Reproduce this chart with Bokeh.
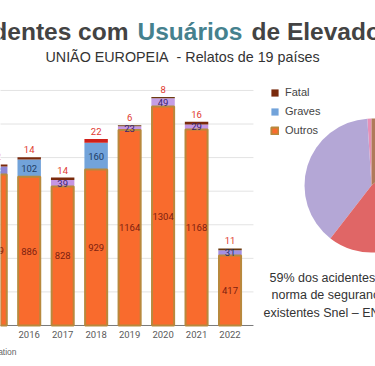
import numpy as np
from bokeh.plotting import figure
from bokeh.models import (ColumnDataSource, Range1d, FixedTicker, LabelSet, Label,
                          Legend, LegendItem, Title)
from bokeh.core.properties import value
from bokeh.embed import file_html
from bokeh.resources import INLINE

# ---------------- data ----------------
years = [2015, 2016, 2017, 2018, 2019, 2020, 2021, 2022]
fatal = [12, 14, 14, 22, 6, 8, 16, 11]
graves = [48, 102, 39, 160, 23, 49, 29, 31]
outros = [899, 886, 828, 929, 1164, 1304, 1168, 417]
y_ticks = [0, 200, 400, 600, 800, 1000, 1200, 1400]
series_names = ["Fatal", "Graves", "Outros"]

pie_labels = ["a", "b", "c", "d"]
pie_shares = [1.0, 38.5, 47.0, 13.5]

title_parts = ["Acidentes com", "Usuários", "de Elevadores"]
subtitle = "UNIÃO EUROPEIA\u00a0 - Relatos de 19 países"
note_lines = ["59% dos acidentes ocorreram sem a", "norma de segurança para elevadores",
              "existentes Snel – EN 81-80"]
source_text = "Fonte: ELA – European Lift Association"

# ---------------- styles ----------------
ORANGE = "#f96b2d"
BROWN = "#b8893d"
fatal_colors = ["#7a2a0c", "#7a2a0c", "#7a2a0c", "#d0201a", "#6b3a10", "#6b3a10", "#7a2a0c", "#6b3a10"]
graves_colors = ["#8d86d6", "#72a3da", "#c596e3", "#72a3da", "#c596e3", "#c49ee6", "#c596e3", "#a390e3"]
graves_text = ["#2a2a6e", "#1e3d66", "#3b2470", "#1e3d66", "#3b2470", "#3b2470", "#3b2470", "#23306b"]
pie_colors = ["#e88fb5", "#b4a7d6", "#e06666", "#b07a5a"]

FONT = "Roboto"
AFONT = "Liberation Sans"

o = np.array(outros, dtype=float)
g = np.array(graves, dtype=float)
f = np.array(fatal, dtype=float)

src = ColumnDataSource(dict(
    year=years,
    outros=o, g_top=o + g, f_top=o + g + f,
    o_mid=o / 2, g_mid=o + g / 2,
    o_txt=[str(v) for v in outros], g_txt=[str(v) for v in graves], f_txt=[str(v) for v in fatal],
    fcol=fatal_colors, gcol=graves_colors, gtc=graves_text,
))

W, H = 375, 366
p = figure(width=W, height=H, output_backend="svg", toolbar_location=None,
           x_range=Range1d(2015.1425, 2026.3466), y_range=Range1d(-17.9, 1935.7),
           y_axis_location=None, min_border_left=0, min_border_right=0,
           min_border_top=0, min_border_bottom=38, title=None)
p.outline_line_color = None
p.grid.grid_line_color = None

# grid lines (only across bar area)
grid_end = 2022.70
p.segment(x0=2014.5, x1=grid_end, y0=y_ticks[1:], y1=y_ticks[1:], line_color="#e3e3e3", line_width=1)
p.segment(x0=[2014.5], x1=[grid_end], y0=[y_ticks[0]], y1=[y_ticks[0]], line_color="#7a7a7a", line_width=1)

# x axis
ax = p.xaxis[0]
ax.ticker = FixedTicker(ticks=years)
ax.axis_line_color = None
ax.major_tick_line_color = None
ax.minor_tick_line_color = None
ax.major_tick_out = 0
ax.major_tick_in = 0
ax.minor_tick_out = 0
ax.major_label_standoff = 2
ax.major_label_text_font = FONT
ax.major_label_text_font_size = "9.5px"
ax.major_label_text_color = "#5a5a5a"

# source note below the axis
p.add_layout(Title(text=source_text, align="right", offset=358, text_font=AFONT,
                   text_font_size="8.5px", text_font_style="normal", text_color="#666666",
                   standoff=8), "below")

# bars
r_gr = p.vbar(x="year", bottom="outros", top="g_top", width=0.70, fill_color="gcol",
              line_color=None, source=src)
r_fa = p.vbar(x="year", bottom="g_top", top="f_top", width=0.70, fill_color="fcol",
              line_color=None, source=src)
r_out = p.vbar(x="year", bottom=0, top="outros", width=0.66, fill_color=ORANGE,
               line_color=BROWN, line_width=2, source=src)

# value labels
p.add_layout(LabelSet(x="year", y="o_mid", text="o_txt", source=src, text_align="center",
                      text_baseline="middle", text_font=value(FONT), text_font_size="9.5px",
                      text_color="#7d1f10"))
p.add_layout(LabelSet(x="year", y="g_mid", text="g_txt", source=src, text_align="center",
                      text_baseline="middle", text_font=value(FONT), text_font_size="9.5px",
                      text_color="gtc"))
p.add_layout(LabelSet(x="year", y="f_top", text="f_txt", source=src, text_align="center",
                      text_baseline="bottom", y_offset=4, text_font=value(FONT),
                      text_font_size="9.5px", text_color="#e0392f"))

# legend
legend = Legend(items=[LegendItem(label=series_names[0], renderers=[r_fa], index=1),
                       LegendItem(label=series_names[1], renderers=[r_gr], index=1),
                       LegendItem(label=series_names[2], renderers=[r_out], index=1)],
                location=(270, 190), orientation="vertical", glyph_width=9, glyph_height=9,
                label_height=16, spacing=3, padding=0, margin=0, border_line_color=None,
                background_fill_alpha=0, label_text_font=AFONT, label_text_font_size="11px",
                label_standoff=6, label_text_color="#444444")
p.add_layout(legend)

# pie
shares = np.array(pie_shares) / sum(pie_shares)
ends = np.pi / 2 + 2 * np.pi * np.cumsum(shares)
starts = ends - 2 * np.pi * shares
pie_src = ColumnDataSource(dict(label=pie_labels, start=starts, end=ends, color=pie_colors,
                                x=[2026.227] * 4, y=[833.8] * 4))
p.wedge(x="x", y="y", radius=67, radius_units="screen", start_angle="start", end_angle="end",
        direction="anticlock", fill_color="color", line_color=None, source=pie_src)

# titles
def lab(x, y, text, **kw):
    p.add_layout(Label(x=x, y=y, x_units="screen", y_units="screen", text=text, **kw))

lab(128, 284, title_parts[0], text_align="right", text_font=AFONT, text_font_size="24.5px",
    text_font_style="bold", text_color="#434343")
lab(137, 284, title_parts[1], text_align="left", text_font=AFONT, text_font_size="24.5px",
    text_font_style="bold", text_color="#45818e")
lab(251, 284, title_parts[2], text_align="left", text_font=AFONT, text_font_size="24.5px",
    text_font_style="bold", text_color="#434343")
lab(45, 264, subtitle, text_align="left", text_font=AFONT, text_font_size="14.3px",
    text_color="#333333")

for xx, yy, t in zip([269, 271, 263], [44, 27, 9], note_lines):
    lab(xx, yy, t, text_align="left", text_font=AFONT, text_font_size="12.5px",
        text_color="#333333")

open("out.html", "w").write(file_html(p, INLINE))
